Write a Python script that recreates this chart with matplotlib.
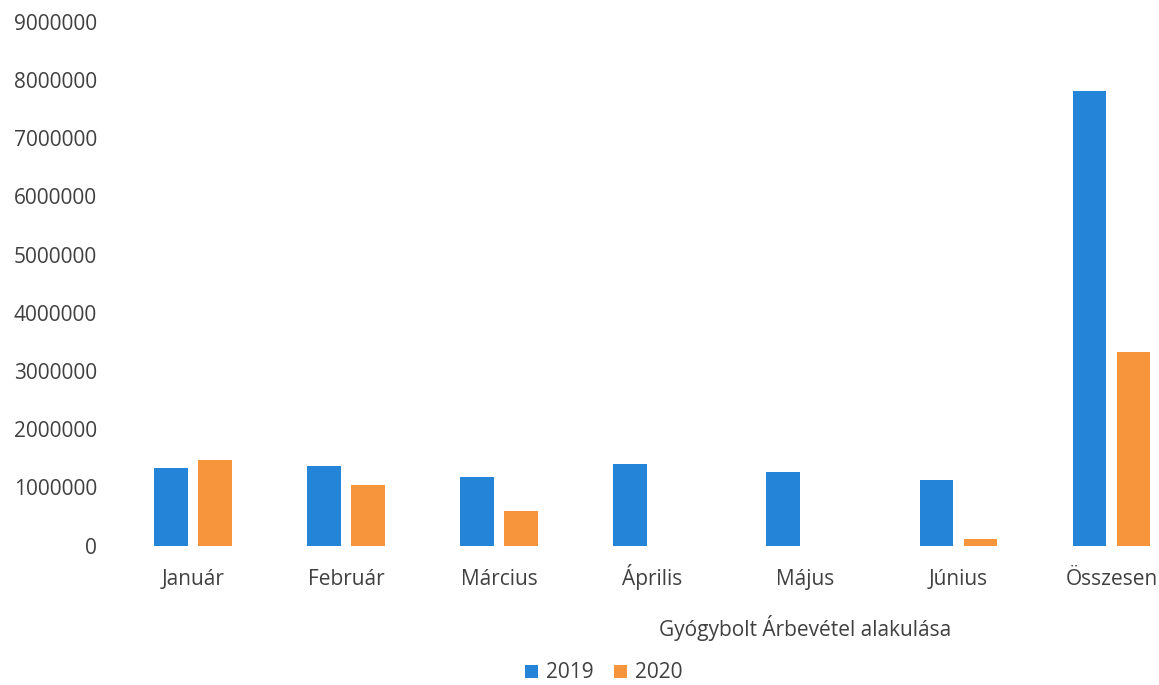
import matplotlib
matplotlib.use('Agg')
import matplotlib.pyplot as plt
import numpy as np

# Values (Ft)
months = ['Január', 'Február', 'Március', 'Április', 'Május', 'Június', 'Összesen']
rev_2019 = [1340000, 1360000, 1180000, 1400000, 1270000, 1130000, 7820000]
rev_2020 = [1470000, 1040000, 590000, 0, 0, 110000, 3330000]
series_labels = ['2019', '2020']
y_ticks = [0, 1000000, 2000000, 3000000, 4000000, 5000000, 6000000, 7000000, 8000000, 9000000]

plt.rcParams['font.family'] = ['Open Sans', 'DejaVu Sans']
text_color = '#404040'
blue = '#2384d8'
orange = '#f7953c'

fig = plt.figure(figsize=(11.59, 6.85), dpi=100)
ax = fig.add_axes([0.1005, 0.2036, 0.8995, 0.7644])

x = np.arange(len(months))
w = 0.22
ax.bar(x - 0.144, rev_2019, width=w, color=blue, label=series_labels[0])
ax.bar(x + 0.144, rev_2020, width=w, color=orange, label=series_labels[1])

ax.set_xlim(-0.5, 6.31)
ax.set_ylim(0, 9000000)
ax.set_yticks(y_ticks)
ax.set_yticklabels([str(v) for v in y_ticks])
ax.set_xticks(x)
ax.set_xticklabels(months)
ax.tick_params(axis='both', length=0, labelsize=15, colors=text_color)
ax.tick_params(axis='y', pad=14)
ax.tick_params(axis='x', pad=28.5)
# align month names on their baseline so the accented Á doesn't drop
for lbl in ax.get_xticklabels():
    lbl.set_va('baseline')
for s in ax.spines.values():
    s.set_visible(False)

fig.text(805 / 1159, 1 - 628 / 685, 'Gyógybolt Árbevétel alakulása',
         ha='center', va='center', fontsize=15, color=text_color)

fig.legend(loc='center', bbox_to_anchor=(604 / 1159, 1 - 673 / 685), ncol=2,
           frameon=False, fontsize=15, handlelength=0.6, handleheight=0.6,
           handletextpad=0.4, columnspacing=1.0, labelcolor=text_color)

fig.savefig('out.png', dpi=100)
